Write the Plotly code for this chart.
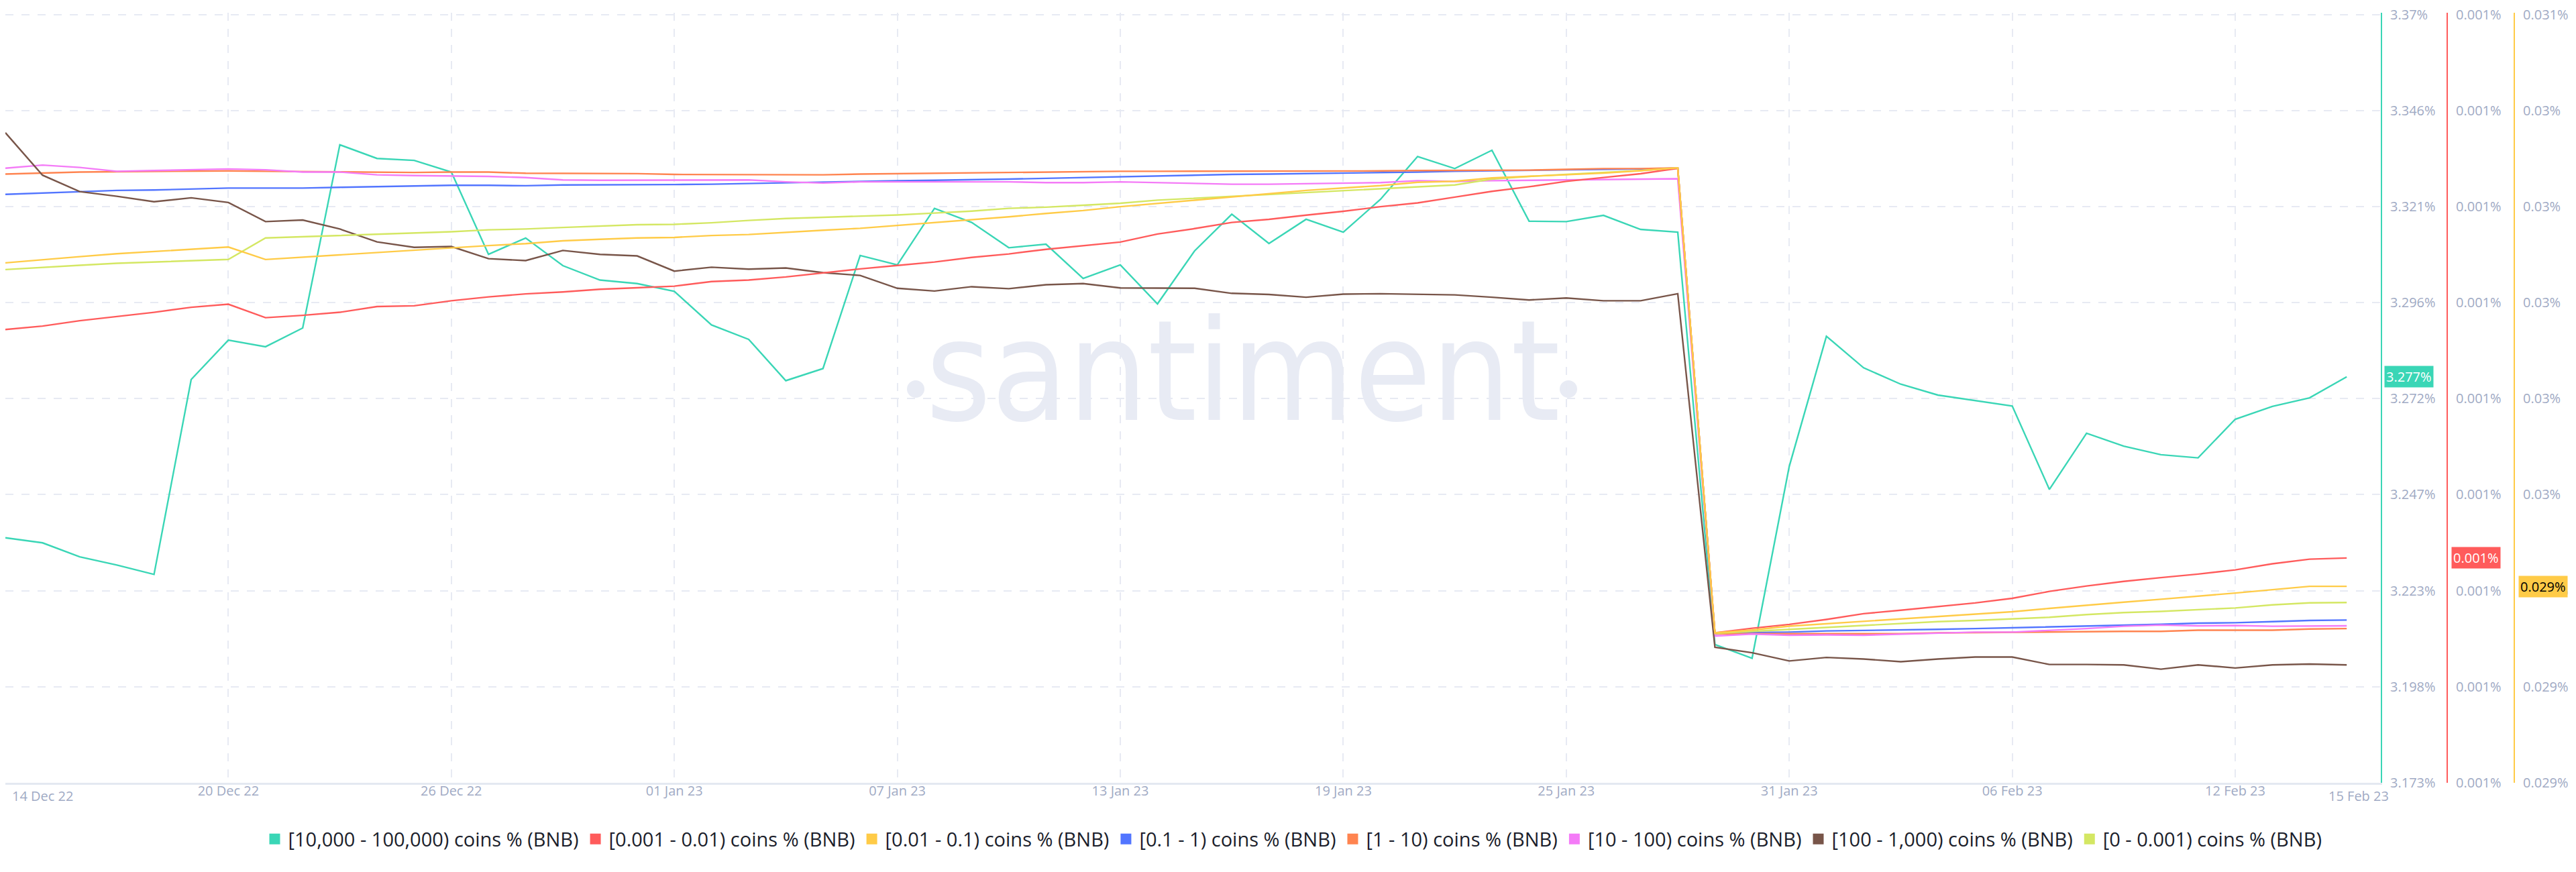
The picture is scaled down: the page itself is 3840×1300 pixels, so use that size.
import pandas as pd
import plotly.graph_objects as go

# daily points, 14 Dec 22 .. 15 Feb 23
dates = pd.date_range("2022-12-14", "2023-02-15", freq="D")

# [10,000 - 100,000) coins % (BNB), left-most right axis
holders_10k_100k = [
    3.2361, 3.2348, 3.2312, 3.2291, 3.2267, 3.2767, 3.2868, 3.2851, 3.2899, 3.3369,
    3.3334, 3.3329, 3.3299, 3.3088, 3.3130, 3.3059, 3.3022, 3.3013, 3.2993, 3.2907,
    3.2870, 3.2764, 3.2795, 3.3085, 3.3061, 3.3206, 3.3170, 3.3105, 3.3114, 3.3026,
    3.3061, 3.2961, 3.3097, 3.3191, 3.3116, 3.3178, 3.3145, 3.3229, 3.3339, 3.3308,
    3.3355, 3.3173, 3.3172, 3.3188, 3.3152, 3.3145, 3.2087, 3.2052, 3.2544, 3.2878,
    3.2797, 3.2755, 3.2727, 3.2713, 3.2699, 3.2485, 3.2629, 3.2596, 3.2574, 3.2566,
    3.2665, 3.2698, 3.2720, 3.2774,
]

# [0.001 - 0.01) coins % (BNB), middle axis (labels all round to 0.001%)
holders_0001_001 = [
    0.0013180, 0.0013189, 0.0013203, 0.0013214, 0.0013225, 0.0013238, 0.0013246, 0.0013211, 0.0013217, 0.0013225,
    0.0013240, 0.0013242, 0.0013255, 0.0013265, 0.0013273, 0.0013278, 0.0013285, 0.0013289, 0.0013293, 0.0013305,
    0.0013309, 0.0013317, 0.0013328, 0.0013338, 0.0013347, 0.0013356, 0.0013368, 0.0013377, 0.0013389, 0.0013399,
    0.0013408, 0.0013429, 0.0013443, 0.0013459, 0.0013467, 0.0013478, 0.0013488, 0.0013500, 0.0013510, 0.0013525,
    0.0013540, 0.0013552, 0.0013566, 0.0013576, 0.0013586, 0.0013600, 0.0012390, 0.0012402, 0.0012412, 0.0012425,
    0.0012440, 0.0012449, 0.0012459, 0.0012468, 0.0012480, 0.0012498, 0.0012512, 0.0012524, 0.0012534, 0.0012543,
    0.0012554, 0.0012570, 0.0012582, 0.0012585,
]

# [0.01 - 0.1) coins % (BNB), right-most axis
holders_001_01 = [
    0.030033, 0.030040, 0.030046, 0.030052, 0.030057, 0.030062, 0.030066, 0.030040, 0.030045, 0.030050,
    0.030055, 0.030060, 0.030065, 0.030069, 0.030073, 0.030079, 0.030082, 0.030085, 0.030086, 0.030090,
    0.030092, 0.030097, 0.030101, 0.030105, 0.030111, 0.030116, 0.030122, 0.030129, 0.030136, 0.030142,
    0.030150, 0.030157, 0.030163, 0.030170, 0.030177, 0.030184, 0.030189, 0.030194, 0.030201, 0.030203,
    0.030210, 0.030213, 0.030217, 0.030220, 0.030225, 0.030231, 0.029262, 0.029268, 0.029276, 0.029281,
    0.029285, 0.029291, 0.029296, 0.029301, 0.029306, 0.029313, 0.029320, 0.029326, 0.029332, 0.029338,
    0.029345, 0.029352, 0.029359, 0.029359,
]

# the remaining bands have no visible axis, so they are read against the first one
holders_01_1 = [
    3.3242, 3.3245, 3.3249, 3.3252, 3.3253, 3.3256, 3.3258, 3.3258, 3.3258, 3.3260,
    3.3262, 3.3264, 3.3265, 3.3265, 3.3264, 3.3266, 3.3266, 3.3267, 3.3267, 3.3268,
    3.3270, 3.3272, 3.3274, 3.3276, 3.3277, 3.3278, 3.3279, 3.3281, 3.3283, 3.3285,
    3.3288, 3.3290, 3.3291, 3.3293, 3.3294, 3.3295, 3.3297, 3.3298, 3.3299, 3.3301,
    3.3302, 3.3303, 3.3304, 3.3306, 3.3307, 3.3309, 3.2114, 3.2118, 3.2119, 3.2122,
    3.2123, 3.2124, 3.2126, 3.2128, 3.2130, 3.2132, 3.2134, 3.2137, 3.2139, 3.2142,
    3.2143, 3.2146, 3.2149, 3.2150,
]

holders_1_10 = [
    3.3294, 3.3297, 3.3299, 3.3300, 3.3301, 3.3302, 3.3302, 3.3301, 3.3300, 3.3299,
    3.3299, 3.3298, 3.3299, 3.3299, 3.3296, 3.3296, 3.3296, 3.3295, 3.3293, 3.3293,
    3.3293, 3.3292, 3.3292, 3.3294, 3.3295, 3.3297, 3.3298, 3.3298, 3.3299, 3.3300,
    3.3301, 3.3301, 3.3301, 3.3301, 3.3301, 3.3301, 3.3302, 3.3302, 3.3303, 3.3303,
    3.3303, 3.3304, 3.3306, 3.3308, 3.3308, 3.3310, 3.2115, 3.2115, 3.2115, 3.2115,
    3.2114, 3.2115, 3.2117, 3.2118, 3.2118, 3.2119, 3.2121, 3.2121, 3.2121, 3.2124,
    3.2124, 3.2124, 3.2127, 3.2128,
]

holders_10_100 = [
    3.3309, 3.3317, 3.3311, 3.3301, 3.3303, 3.3305, 3.3307, 3.3305, 3.3299, 3.3299,
    3.3292, 3.3290, 3.3289, 3.3288, 3.3285, 3.3279, 3.3278, 3.3278, 3.3279, 3.3279,
    3.3279, 3.3274, 3.3271, 3.3274, 3.3274, 3.3275, 3.3275, 3.3274, 3.3272, 3.3272,
    3.3274, 3.3272, 3.3270, 3.3268, 3.3268, 3.3269, 3.3270, 3.3272, 3.3277, 3.3275,
    3.3277, 3.3278, 3.3279, 3.3280, 3.3281, 3.3282, 3.2109, 3.2114, 3.2111, 3.2112,
    3.2111, 3.2114, 3.2117, 3.2119, 3.2119, 3.2123, 3.2128, 3.2134, 3.2137, 3.2135,
    3.2136, 3.2134, 3.2134, 3.2135,
]

holders_100_1k = [
    3.3400, 3.3291, 3.3249, 3.3237, 3.3223, 3.3233, 3.3221, 3.3172, 3.3176, 3.3153,
    3.3120, 3.3106, 3.3108, 3.3077, 3.3072, 3.3098, 3.3088, 3.3084, 3.3045, 3.3055,
    3.3050, 3.3053, 3.3041, 3.3034, 3.3001, 3.2994, 3.3005, 3.3000, 3.3010, 3.3013,
    3.3002, 3.3001, 3.3001, 3.2988, 3.2985, 3.2978, 3.2986, 3.2987, 3.2985, 3.2984,
    3.2978, 3.2971, 3.2976, 3.2969, 3.2969, 3.2987, 3.2080, 3.2066, 3.2045, 3.2054,
    3.2050, 3.2043, 3.2050, 3.2055, 3.2055, 3.2036, 3.2036, 3.2035, 3.2024, 3.2035,
    3.2027, 3.2035, 3.2037, 3.2035,
]

holders_0_0001 = [
    3.3049, 3.3055, 3.3060, 3.3065, 3.3068, 3.3072, 3.3075, 3.3130, 3.3133, 3.3136,
    3.3139, 3.3143, 3.3146, 3.3151, 3.3153, 3.3157, 3.3161, 3.3164, 3.3165, 3.3169,
    3.3175, 3.3180, 3.3183, 3.3186, 3.3189, 3.3194, 3.3199, 3.3206, 3.3209, 3.3214,
    3.3219, 3.3227, 3.3232, 3.3237, 3.3242, 3.3247, 3.3252, 3.3257, 3.3262, 3.3266,
    3.3281, 3.3288, 3.3293, 3.3298, 3.3303, 3.3310, 3.2116, 3.2121, 3.2126, 3.2132,
    3.2137, 3.2142, 3.2146, 3.2149, 3.2153, 3.2157, 3.2164, 3.2169, 3.2172, 3.2176,
    3.2181, 3.2189, 3.2194, 3.2195,
]

tick_dates = ["2022-12-14", "2022-12-20", "2022-12-26", "2023-01-01", "2023-01-07", "2023-01-13",
              "2023-01-19", "2023-01-25", "2023-01-31", "2023-02-06", "2023-02-12"]
tick_labels = ["", "20 Dec 22", "26 Dec 22", "01 Jan 23", "07 Jan 23", "13 Jan 23",
               "19 Jan 23", "25 Jan 23", "31 Jan 23", "06 Feb 23", "12 Feb 23"]

TEAL = "#3AD6B6"
RED = "#FF5B5B"
YELLOW = "#FFCB47"
GRID = "#E7EAF3"
TICK = "#9FAAC4"
MARK = "#E8EBF4"

W = 3840
PLOT_RIGHT = 3541
PLOT_H = 1150
TOP_PAD_PX = 3

series = [
    ("[10,000 - 100,000) coins % (BNB)", holders_10k_100k, TEAL, "y"),
    ("[0.001 - 0.01) coins % (BNB)", holders_0001_001, RED, "y2"),
    ("[0.01 - 0.1) coins % (BNB)", holders_001_01, YELLOW, "y3"),
    ("[0.1 - 1) coins % (BNB)", holders_01_1, "#5275FF", "y"),
    ("[1 - 10) coins % (BNB)", holders_1_10, "#FF8450", "y"),
    ("[10 - 100) coins % (BNB)", holders_10_100, "#F47BF7", "y"),
    ("[100 - 1,000) coins % (BNB)", holders_100_1k, "#785549", "y"),
    ("[0 - 0.001) coins % (BNB)", holders_0_0001, "#D4E763", "y"),
]

teal_range = [3.1733, 3.37026]
red_range = [0.0012, 0.0014]
yellow_range = [0.02895, 0.03055]


def pct(v):
    return f"{v:.3f}".rstrip("0").rstrip(".") + "%"


def axis_ticks(rng, n=9):
    step = (rng[1] - rng[0]) / (n - 1)
    vals = [rng[0] + i * step for i in range(n)]
    # a few px of headroom so the top tick and its grid line are kept
    span = rng[1] - rng[0]
    top = rng[1] + span * TOP_PAD_PX / (PLOT_H - TOP_PAD_PX)
    return dict(range=[rng[0] - step * 0.002, top], tickvals=vals,
                ticktext=[pct(v) for v in vals])


fig = go.Figure()

for name, values, color, axis in series:
    fig.add_trace(go.Scatter(x=dates, y=values, mode="lines", name=name, yaxis=axis,
                             line=dict(color=color, width=2.4), showlegend=False))

# square legend keys like the original
for name, values, color, axis in series:
    fig.add_trace(go.Scatter(x=[None], y=[None], mode="markers", name=name,
                             marker=dict(symbol="square", size=16, color=color)))

axis_common = dict(
    side="right", zeroline=False, tickfont=dict(size=20, color=TICK),
    ticks="", ticklabelstandoff=8, ticklabeloverflow="allow",
    showline=True, linewidth=2,
)

fig.update_layout(
    width=W, height=1300,
    margin=dict(l=0, r=0, t=9, b=141),
    paper_bgcolor="white", plot_bgcolor="white",
    font=dict(family="Open Sans, sans-serif", color=TICK, size=20),
    xaxis=dict(
        domain=[0, PLOT_RIGHT / W],
        range=["2022-12-14", "2023-02-15 22:00"],
        tickvals=tick_dates, ticktext=tick_labels,
        showgrid=True, gridcolor=GRID, gridwidth=2, griddash="12px,12px",
        showline=True, linecolor="#E4E8F1", linewidth=3,
        ticks="", ticklabelstandoff=-8, zeroline=False,
        tickfont=dict(size=20, color=TICK),
    ),
    yaxis=dict(
        showgrid=True, gridcolor=GRID, gridwidth=2, griddash="12px,12px",
        linecolor=TEAL, anchor="x", **axis_ticks(teal_range), **axis_common,
    ),
    yaxis2=dict(
        overlaying="y", anchor="free", position=3640 / W, showgrid=False,
        linecolor=RED, **axis_ticks(red_range), **axis_common,
    ),
    yaxis3=dict(
        overlaying="y", anchor="free", position=3740 / W, showgrid=False,
        linecolor=YELLOW, **axis_ticks(yellow_range), **axis_common,
    ),
    legend=dict(
        orientation="h", x=0.5, xanchor="center", y=-0.073, yanchor="middle",
        font=dict(size=29, color="#1B1E2B"), itemsizing="trace",
    ),
)

# edge date labels that would otherwise be clipped
fig.add_annotation(x=dates[0], y=-0.0174, xref="x", yref="paper", text="14 Dec 22",
                   showarrow=False, xanchor="left", yanchor="middle", xshift=8,
                   font=dict(size=20, color=TICK))
fig.add_annotation(x=dates[-1], y=-0.0174, xref="x", yref="paper", text="15 Feb 23",
                   showarrow=False, xanchor="center", yanchor="middle", xshift=18,
                   font=dict(size=20, color=TICK))

# last-value badges on each visible axis
badges = [
    (holders_10k_100k[-1], "y", 3546, TEAL, "white"),
    (holders_0001_001[-1], "y2", 3646, RED, "white"),
    (holders_001_01[-1], "y3", 3746, YELLOW, "black"),
]
for value, axis, px, bg, fg in badges:
    fig.add_annotation(x=px / W, y=value, xref="paper", yref=axis, text=pct(value),
                       showarrow=False, xanchor="left", yanchor="middle",
                       bgcolor=bg, borderpad=2, font=dict(size=20, color=fg))

# watermark: word plus the two round dots of the logo
fig.add_annotation(x=1845 / W, y=(1159 - 545) / PLOT_H, xref="paper", yref="paper", text="santiment",
                   showarrow=False, xanchor="center", yanchor="middle",
                   font=dict(size=208, color=MARK,
                             family="Liberation Sans Narrow, DejaVu Sans Condensed, Liberation Sans, sans-serif"))
for cx in (1357, 2330):
    fig.add_shape(type="circle", xref="paper", yref="paper", layer="below",
                  x0=(cx - 13) / W, x1=(cx + 13) / W,
                  y0=(1159 - 571 - 13) / PLOT_H, y1=(1159 - 571 + 13) / PLOT_H,
                  fillcolor=MARK, line=dict(width=0))

fig.write_html("out.html")
